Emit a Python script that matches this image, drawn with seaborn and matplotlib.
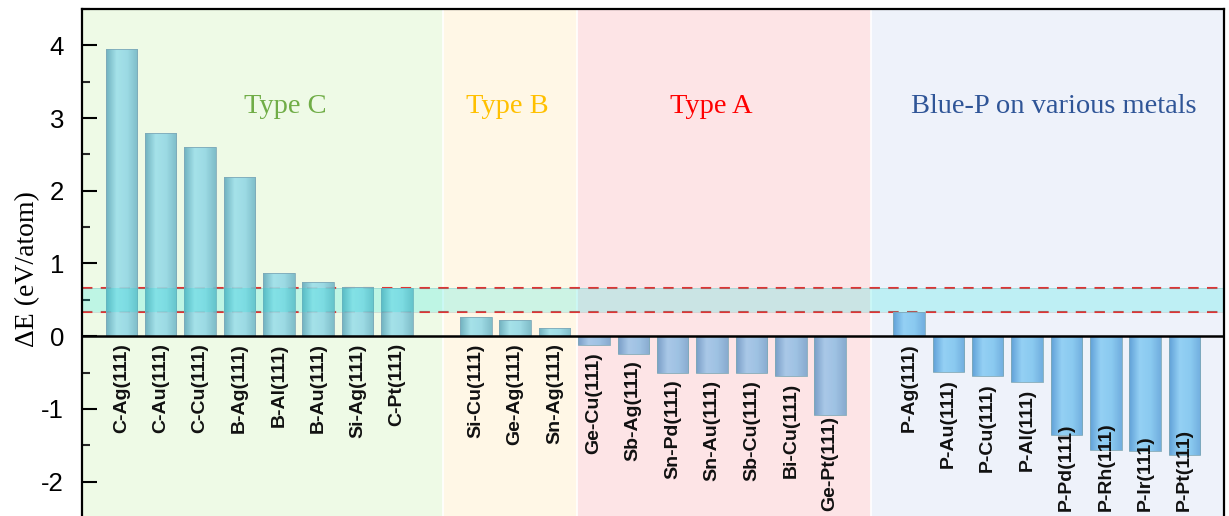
import numpy as np
import pandas as pd
import matplotlib
matplotlib.use("Agg")
import matplotlib.pyplot as plt
import seaborn as sns
from matplotlib.colors import LinearSegmentedColormap
from matplotlib.ticker import MultipleLocator

# Formation energy difference per substrate, grouped by growth type
type_c_labels = ["C-Ag(111)", "C-Au(111)", "C-Cu(111)", "B-Ag(111)",
                 "B-Al(111)", "B-Au(111)", "Si-Ag(111)", "C-Pt(111)"]
type_c_values = [3.95, 2.79, 2.60, 2.19, 0.87, 0.74, 0.67, 0.66]

type_b_labels = ["Si-Cu(111)", "Ge-Ag(111)", "Sn-Ag(111)"]
type_b_values = [0.26, 0.22, 0.11]

type_a_labels = ["Ge-Cu(111)", "Sb-Ag(111)", "Sn-Pd(111)", "Sn-Au(111)",
                 "Sb-Cu(111)", "Bi-Cu(111)", "Ge-Pt(111)"]
type_a_values = [-0.12, -0.24, -0.50, -0.51, -0.51, -0.55, -1.09]

blue_p_labels = ["P-Ag(111)", "P-Au(111)", "P-Cu(111)", "P-Al(111)",
                 "P-Pd(111)", "P-Rh(111)", "P-Ir(111)", "P-Pt(111)"]
blue_p_values = [0.33, -0.49, -0.55, -0.63, -1.36, -1.56, -1.58, -1.64]

group_names = ["Type C", "Type B", "Type A", "Blue-P on various metals"]
window_low, window_high = 0.33, 0.665

df = pd.DataFrame({
    "label": type_c_labels + type_b_labels + type_a_labels + blue_p_labels,
    "value": type_c_values + type_b_values + type_a_values + blue_p_values,
    "group": (["C"] * len(type_c_labels) + ["B"] * len(type_b_labels)
              + ["A"] * len(type_a_labels) + ["P"] * len(blue_p_labels)),
})
# empty slots separate the groups
order = type_c_labels + [" "] + type_b_labels + type_a_labels + ["  "] + blue_p_labels

sns.set_theme(style="white")
plt.rcParams["font.family"] = ["Liberation Sans", "DejaVu Sans"]
plt.rcParams["axes.unicode_minus"] = False

fig = plt.figure(figsize=(12.29, 5.16), dpi=100)
ax = fig.add_axes([0.0667, -0.0039, 0.9292, 0.9865])
ax.set_facecolor("white")

palette = {"C": "#8fd3df", "B": "#8fd3df", "A": "#90b8de", "P": "#80c4ee"}
sns.barplot(data=df, x="label", y="value", hue="group", order=order,
            palette=palette, dodge=False, width=0.8, legend=False,
            edgecolor="#7fa9b8", linewidth=0.6, ax=ax, zorder=3)

# cylinder-like shading on every bar
shades = {
    "C": ["#64abbb", "#9ee0ea", "#95d8e4", "#74b7c6"],
    "B": ["#64abbb", "#9ee0ea", "#95d8e4", "#74b7c6"],
    "A": ["#6c97c4", "#a2c6e8", "#96bfe3", "#7ea6ce"],
    "P": ["#5399d4", "#8ccdf4", "#82c7f0", "#66a8dc"],
}
for cont, grp in zip(ax.containers, ["C", "B", "A", "P"]):
    cmap = LinearSegmentedColormap.from_list("shade_" + grp, shades[grp])
    for bar in cont:
        x0, y0 = bar.get_x(), bar.get_y()
        w, h = bar.get_width(), bar.get_height()
        if not np.isfinite(h):
            continue
        img = ax.imshow(np.linspace(0, 1, 128)[None, :], cmap=cmap,
                        extent=(x0, x0 + w, min(y0, y0 + h), max(y0, y0 + h)),
                        aspect="auto", zorder=3.1, alpha=0.92,
                        interpolation="bilinear")
        img.set_clip_path(bar)
        bar.set_facecolor("none")
        bar.set_zorder(3.2)

xmin, xmax = -1.0, 28.0
ymin, ymax = -2.5, 4.5

# growth-type background regions
ax.axvspan(xmin, 8.17, color="#eefae6", zorder=0, lw=0)
ax.axvspan(8.17, 11.57, color="#fff7e6", zorder=0, lw=0)
ax.axvspan(11.57, 19.03, color="#fde4e6", zorder=0, lw=0)
ax.axvspan(19.03, xmax, color="#eef2fa", zorder=0, lw=0)
for xb in (8.17, 11.57, 19.03):
    ax.axvline(xb, color="white", lw=1.2, zorder=0.5)

# energy window
ax.axhspan(window_low, window_high, color="#00e4dc", alpha=0.2, lw=0, zorder=4)
for yv in (window_low, window_high):
    ax.axhline(yv, color="#e03434", lw=1.5, ls=(0, (5, 4)), zorder=2.5)
    ax.axhline(yv, color="#b0c8c8", lw=0.6, zorder=2.4, alpha=0.6)

ax.axhline(0, color="black", lw=1.8, zorder=5)

ax.set_xlim(xmin, xmax)
ax.set_ylim(ymin, ymax)

# group titles
title_font = dict(family=["Liberation Serif", "DejaVu Serif"], fontsize=20.5,
                  ha="center", va="baseline", zorder=6)
ax.text(4.16, 3.07, group_names[0], color="#70ad47", **title_font)
ax.text(9.81, 3.07, group_names[1], color="#ffc000", **title_font)
ax.text(14.97, 3.07, group_names[2], color="#ff0000", **title_font)
ax.text(23.68, 3.07, group_names[3], color="#2f5597", **title_font)

# substrate names under the zero line or under each negative bar
fig.canvas.draw()
renderer = fig.canvas.get_renderer()
floor_y = ax.transData.transform((0, -2.41))[1]
for lab, val in zip(df["label"], df["value"]):
    xi = order.index(lab)
    t = ax.annotate(lab, xy=(xi, min(val, 0.0)), xytext=(0, -5),
                    textcoords="offset points", rotation=90, ha="center",
                    va="top", fontsize=14, fontweight="bold",
                    color="#111111", zorder=7)
    bb = t.get_window_extent(renderer)
    if bb.y0 < floor_y:
        t.xy = (xi, -2.41)
        t.set_position((0, 0))
        t.set_va("bottom")

# axes styling
ax.set_xticks([])
ax.set_xlabel("")
ax.set_yticks(np.arange(-2, 5, 1))
ax.set_yticklabels([f"{v:d}" for v in range(-2, 5)])
ax.yaxis.set_minor_locator(MultipleLocator(0.5))
ax.tick_params(axis="y", which="major", direction="in", length=11, width=1.5,
               pad=13, labelsize=18.5, left=True, right=False,
               colors="black")
ax.tick_params(axis="y", which="minor", direction="in", length=5.5, width=1.5,
               left=True, right=False)
ax.set_ylabel("\u0394E (eV/atom)", family=["Liberation Serif", "DejaVu Serif"],
              fontsize=20, color="black")
ax.yaxis.set_label_coords(-0.037, 0.49)
for side in ("left", "top", "right"):
    ax.spines[side].set_color("black")
    ax.spines[side].set_linewidth(1.6)
    ax.spines[side].set_zorder(8)
ax.spines["bottom"].set_visible(False)

fig.savefig("out.png", dpi=100)
